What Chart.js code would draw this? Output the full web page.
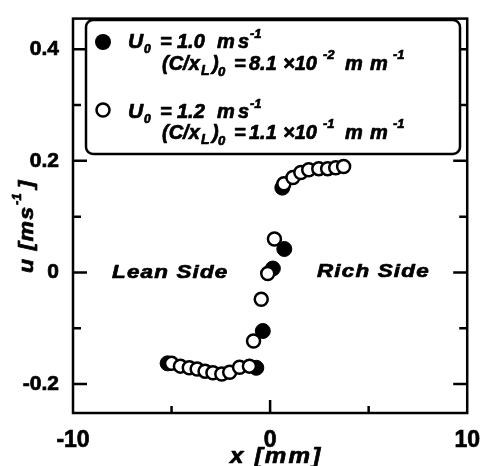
<!DOCTYPE html>
<html><head><meta charset="utf-8">
<script src="https://cdn.jsdelivr.net/npm/chart.js@4/dist/chart.umd.min.js"></script>
<style>html,body{margin:0;padding:0;background:#fff;}#wrap{width:486px;height:466px;}</style>
</head><body><div id="wrap"><canvas id="c" width="486" height="466"></canvas></div>
<script>
// ---- data ----
const filledX = [-5.2, -0.7, -0.37, 0.14, 0.62, 0.72];
const filledY = [-0.163, -0.171, -0.105, 0.007, 0.152, 0.042];
const openX = [-5.0, -4.55, -4.1, -3.7, -3.3, -2.9, -2.45, -2.05, -1.55, -1.05,
               -0.84, -0.45, -0.12, 0.22,
               0.7, 1.16, 1.56, 1.96, 2.47, 2.92, 3.33, 3.73];
const openY = [-0.163, -0.168, -0.171, -0.173, -0.177, -0.180, -0.182, -0.179, -0.170, -0.168,
               -0.123, -0.048, -0.002, 0.060,
               0.159, 0.170, 0.179, 0.184, 0.186, 0.186, 0.1875, 0.190];
const xLabeledTicks = [-10, 0, 10];
const xTickText = ['-10', '0', '10'];
const yLabeledTicks = [-0.2, 0, 0.2, 0.4];
const yTickText = ['-0.2', '0', '0.2', '0.4'];
const xTitle = 'x [mm]';
const yTitleMain = 'u [ms';
const yTitleSup = '-1';
const yTitleEnd = ']';
const sideLabels = ['Lean Side', 'Rich Side'];
const legend1 = ['U', '0', '=', '1.0', 'm', 's', '-1'];
const legend1b = ['(C/x', 'L', ')', '0', '=', '8.1', '×10', '-2', 'm', 'm', '-1'];
const legend2 = ['U', '0', '=', '1.2', 'm', 's', '-1'];
const legend2b = ['(C/x', 'L', ')', '0', '=', '1.1', '×10', '-1', 'm', 'm', '-1'];

const FF = '"Liberation Sans", Arial, Helvetica, sans-serif';
const toPts = (xs, ys) => xs.map((v, i) => ({x: v, y: ys[i]}));
const near = (a, b) => Math.abs(a - b) < 1e-6;

function setLS(ctx, v) { if ('letterSpacing' in ctx) ctx.letterSpacing = v; }

// bold-italic text with slight emboldening stroke and optional horizontal stretch
function txt(ctx, t, x, y, size, sx, ls) {
  ctx.save();
  ctx.translate(x, y);
  ctx.scale(sx || 1, 1);
  ctx.font = 'italic bold ' + size + 'px ' + FF;
  setLS(ctx, (ls || 0) + 'px');
  ctx.fillStyle = '#000';
  ctx.strokeStyle = '#000';
  ctx.lineWidth = 0.7;
  ctx.lineJoin = 'round';
  ctx.fillText(t, 0, 0);
  ctx.strokeText(t, 0, 0);
  const w = ctx.measureText(t).width * (sx || 1);
  ctx.restore();
  return w;
}

function drawSegs(ctx, texts, x0, y0, layout) {
  texts.forEach((t, i) => {
    const [dx, dy, size] = layout[i];
    txt(ctx, t, x0 + dx, y0 + dy, size, 1, 0);
  });
}
const L1 = [[0,0,21],[16,5,12],[32,0,20],[49,0,20],[89,0,20],[110,0,20],[122,-10,13]];
const L2 = [[0,0,20],[39,5,14],[50,0,20],[56,6,13],[72,0,20],[87,0,20],[121,0,20],[161,-11,13],[183,0,20],[208,0,20],[231,-11,13]];

const frame = {
  id: 'frame',
  beforeDatasetsDraw(chart) {
    const {ctx, chartArea: a, scales: {x, y}} = chart;
    ctx.save();
    ctx.strokeStyle = '#000';
    ctx.lineWidth = 2.5;
    ctx.lineCap = 'butt';
    ctx.strokeRect(a.left, a.top, a.right - a.left, a.bottom - a.top);
    ctx.beginPath();
    x.ticks.forEach(t => {
      if (near(t.value, x.min) || near(t.value, x.max)) return;
      const px = x.getPixelForValue(t.value);
      const len = xLabeledTicks.some(v => near(v, t.value)) ? 13 : 7;
      ctx.moveTo(px, a.bottom); ctx.lineTo(px, a.bottom - len);
      ctx.moveTo(px, a.top); ctx.lineTo(px, a.top + len);
    });
    y.ticks.forEach(t => {
      if (near(t.value, y.min) || near(t.value, y.max)) return;
      const py = y.getPixelForValue(t.value);
      const len = yLabeledTicks.some(v => near(v, t.value)) ? 14 : 8;
      ctx.moveTo(a.left, py); ctx.lineTo(a.left + len, py);
      ctx.moveTo(a.right, py); ctx.lineTo(a.right - len, py);
    });
    ctx.stroke();
    ctx.restore();
  },
  afterDraw(chart) {
    const {ctx} = chart;
    ctx.save();
    ctx.textAlign = 'left';
    ctx.textBaseline = 'alphabetic';
    // side labels
    txt(ctx, sideLabels[0], 112, 278, 19, 1.18, 1);
    txt(ctx, sideLabels[1], 317, 277, 19, 1.18, 1);
    // x title
    txt(ctx, xTitle, 230, 463, 22, 1.1, 2);
    // y title (rotated)
    ctx.save();
    ctx.translate(33, 273);
    ctx.rotate(-Math.PI / 2);
    const w = txt(ctx, yTitleMain, 0, 0, 21, 1.1, 1);
    const w2 = txt(ctx, yTitleSup, w + 1, -12, 13, 1, 0);
    txt(ctx, yTitleEnd, w + w2 + 6, 0, 21, 1.1, 0);
    ctx.restore();
    // legend box
    const bx = 86, by = 20, bw = 374, bh = 134, r = 7;
    ctx.beginPath();
    ctx.moveTo(bx + r, by);
    ctx.arcTo(bx + bw, by, bx + bw, by + bh, r);
    ctx.arcTo(bx + bw, by + bh, bx, by + bh, r);
    ctx.arcTo(bx, by + bh, bx, by, r);
    ctx.arcTo(bx, by, bx + bw, by, r);
    ctx.closePath();
    ctx.fillStyle = '#fff';
    ctx.fill();
    ctx.lineWidth = 2.5;
    ctx.strokeStyle = '#000';
    ctx.stroke();
    // legend markers
    ctx.beginPath(); ctx.arc(103, 42, 8, 0, Math.PI * 2); ctx.fillStyle = '#000'; ctx.fill();
    ctx.beginPath(); ctx.arc(103, 110, 6.5, 0, Math.PI * 2); ctx.fillStyle = '#fff'; ctx.fill();
    ctx.lineWidth = 2.5; ctx.stroke();
    drawSegs(ctx, legend1, 128, 48, L1);
    drawSegs(ctx, legend1b, 162, 70, L2);
    drawSegs(ctx, legend2, 128, 118, L1);
    drawSegs(ctx, legend2b, 162, 139, L2);
    ctx.restore();
  }
};

new Chart(document.getElementById('c'), {
  type: 'scatter',
  data: {
    datasets: [
      {
        label: 'U0 = 1.0',
        data: toPts(filledX, filledY),
        pointRadius: 7.5, pointHoverRadius: 7.5, pointBorderWidth: 1,
        pointBackgroundColor: '#000', pointBorderColor: '#000',
        showLine: false, order: 2
      },
      {
        label: 'U0 = 1.2',
        data: toPts(openX, openY),
        pointRadius: 6.5, pointHoverRadius: 6.5, pointBorderWidth: 2.5,
        pointBackgroundColor: '#fff', pointBorderColor: '#000',
        showLine: false, order: 1
      }
    ]
  },
  options: {
    responsive: false,
    animation: false,
    devicePixelRatio: 1,
    layout: {padding: {left: 0, right: 15, top: 17, bottom: 0}},
    plugins: {legend: {display: false}, tooltip: {enabled: false}},
    scales: {
      x: {
        type: 'linear', min: -10, max: 10,
        grid: {display: false}, border: {display: false},
        ticks: {
          stepSize: 5, autoSkip: false, maxRotation: 0, padding: 6, color: '#000',
          textStrokeColor: '#000', textStrokeWidth: 0.7,
          font: {family: FF, size: 23, weight: 'bold'},
          callback: v => { const i = xLabeledTicks.findIndex(t => near(t, v)); return i >= 0 ? xTickText[i] : ''; }
        },
        afterFit: s => { s.height = 53; }
      },
      y: {
        type: 'linear', min: -0.252, max: 0.455,
        grid: {display: false}, border: {display: false},
        ticks: {
          stepSize: 0.1, autoSkip: false, padding: 6, color: '#000',
          textStrokeColor: '#000', textStrokeWidth: 0.7,
          font: {family: FF, size: 21, weight: 'bold'},
          callback: v => { const i = yLabeledTicks.findIndex(t => near(t, v)); return i >= 0 ? yTickText[i] : ''; }
        },
        afterFit: s => { s.width = 73; }
      }
    }
  },
  plugins: [frame]
});
</script>
</body></html>
